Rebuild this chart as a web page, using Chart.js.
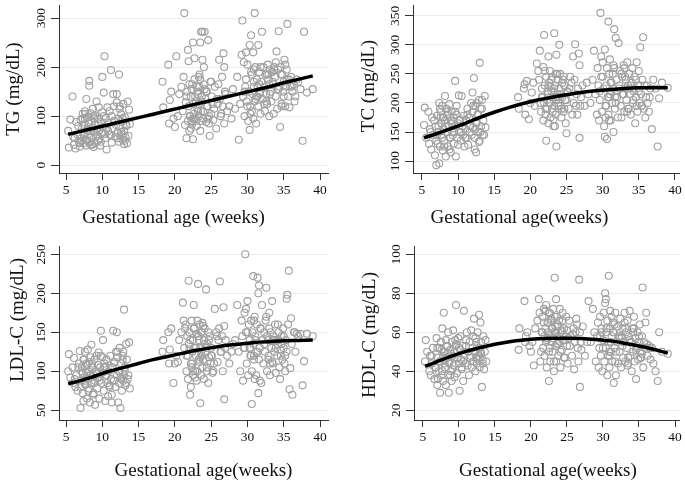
<!DOCTYPE html>
<html>
<head>
<meta charset="utf-8">
<script src="https://cdn.jsdelivr.net/npm/chart.js@4.4.1/dist/chart.umd.min.js"></script>
<style>
    body { margin: 0; background: #fff; }
    #wrap { position: relative; width: 685px; height: 482px; }
    canvas { position: absolute; }
</style>
</head>
<body>
<div id="wrap">
    <canvas id="tgChart" width="342" height="230" style="left:0;top:0"></canvas>
    <canvas id="tcChart" width="343" height="230" style="left:342px;top:0"></canvas>
    <canvas id="ldlChart" width="342" height="252" style="left:0;top:230px"></canvas>
    <canvas id="hdlChart" width="343" height="252" style="left:342px;top:230px"></canvas>
</div>
<script>
// tick labels
const weekTicks = [5, 10, 15, 20, 25, 30, 35, 40];
const tgTicks = [0, 100, 200, 300];
const tcTicks = [100, 150, 200, 250, 300, 350];
const ldlTicks = [50, 100, 150, 200, 250];
const hdlTicks = [20, 40, 60, 80, 100];

// gestational age of each subject (weeks), shared by the four panels
const weeks = [
    5.3,5.4,5.6,5.9,6.0,6.1,6.3,6.4,6.6,6.8,
    6.9,7.0,7.1,7.2,7.3,7.4,7.4,7.5,7.6,7.7,
    7.8,7.8,7.9,8.0,8.0,8.1,8.2,8.2,8.3,8.4,
    8.5,8.5,8.6,8.7,8.8,8.9,9.0,9.0,9.1,9.2,
    9.3,9.4,9.4,9.5,9.6,9.7,9.8,9.9,10.0,10.0,
    10.1,10.2,10.3,10.4,10.5,10.6,10.7,10.8,10.9,11.0,
    11.1,11.2,11.3,11.4,11.5,11.6,11.7,11.8,11.9,12.0,
    12.0,12.1,12.2,12.3,12.3,12.4,12.5,12.5,12.6,12.7,
    12.8,12.9,13.0,13.0,13.1,13.2,13.3,13.4,13.5,13.7,
    13.8,7.1,7.6,8.4,8.8,9.3,9.6,10.4,11.3,12.9,
    6.2,6.7,7.0,7.3,7.5,7.7,7.9,8.1,8.3,8.6,
    8.9,9.1,9.5,9.8,10.2,10.6,11.0,11.6,12.1,12.4,
    12.6,12.8,13.1,13.3,13.6,
    18.3,18.4,19.1,19.2,19.3,19.5,19.8,20.0,20.2,20.4,
    20.6,20.9,21.1,21.2,21.3,21.5,21.6,21.7,21.8,21.8,
    21.9,21.9,22.0,22.1,22.2,22.2,22.3,22.4,22.5,22.5,
    22.6,22.7,22.7,22.8,22.9,23.0,23.0,23.1,23.2,23.3,
    23.3,23.4,23.5,23.5,23.6,23.6,23.7,23.8,23.9,24.0,
    24.0,24.1,24.2,24.3,24.4,24.5,24.6,24.7,24.8,24.9,
    25.0,25.1,25.3,25.5,25.7,25.9,26.0,26.1,26.2,26.3,
    26.5,26.6,26.7,26.8,26.8,27.0,27.2,27.5,27.8,28.0,
    22.3,22.8,23.2,23.8,24.3,24.6,22.0,23.4,25.2,21.4,
    21.6,22.1,22.4,22.6,22.9,23.1,23.3,23.6,23.7,23.9,
    24.1,24.4,24.7,25.0,25.4,25.8,26.4,26.9,22.5,23.5,
    28.3,28.6,28.8,29.0,29.2,29.3,29.4,29.5,29.6,29.7,
    29.8,29.9,30.0,30.1,30.2,30.3,30.3,30.4,30.5,30.6,
    30.6,30.7,30.8,30.8,30.9,31.0,31.0,31.1,31.2,31.3,
    31.4,31.5,31.5,31.6,31.7,31.8,31.9,32.0,32.1,32.2,
    32.3,32.4,32.5,32.6,32.7,32.8,32.9,33.0,33.1,33.2,
    33.3,33.4,33.5,33.6,33.7,33.8,33.9,34.0,34.1,34.2,
    34.3,34.4,34.5,34.6,34.7,34.8,34.9,35.0,35.1,35.2,
    35.3,35.4,35.5,35.6,35.7,35.8,35.9,36.0,36.2,36.4,
    36.6,36.8,37.0,37.3,37.6,37.8,38.2,39.0,30.4,31.2,
    32.6,33.4,34.3,30.9,31.7,33.0,34.7,35.2,29.8,32.9,
    29.6,30.0,30.5,30.9,31.1,31.4,31.8,32.3,32.7,33.1,
    33.5,33.9,34.2,34.6,35.0,35.4,36.1,36.5,31.6,33.7
];

const tgValues = [
    70,36,93,140,58,42,34,88,62,47,
    38,92,55,75,105,45,66,82,110,52,
    135,40,72,98,63,85,172,162,48,106,
    58,90,76,115,37,68,102,45,83,130,
    60,94,50,118,72,40,88,65,180,108,
    78,148,222,55,96,32,118,70,86,110,
    62,194,100,75,145,120,90,58,82,145,
    128,66,95,185,48,115,77,60,104,88,
    52,125,70,43,98,58,82,45,130,113,
    84,50,95,42,100,74,55,64,46,62,
    55,80,46,95,60,105,50,88,70,42,
    96,58,85,48,100,75,62,90,55,120,
    68,95,50,80,60,
    170,118,205,85,133,150,95,78,222,100,
    145,160,110,180,310,128,55,150,235,90,
    212,120,165,100,75,140,155,85,250,53,
    105,175,218,95,130,160,80,115,145,100,
    125,185,250,70,272,90,140,272,110,165,
    200,272,135,88,150,120,255,100,60,170,
    105,140,92,160,75,125,165,215,135,100,
    180,120,228,85,200,145,110,120,95,155,
    90,140,110,215,150,95,70,160,125,82,
    140,100,165,125,90,150,180,110,130,95,
    155,120,85,170,115,135,105,150,95,175,
    115,180,52,125,225,295,140,210,100,160,
    230,130,205,90,150,72,245,120,265,185,
    110,145,230,95,160,310,130,200,85,175,
    140,245,120,190,150,105,170,272,135,200,
    160,110,185,145,125,205,175,100,195,150,
    130,190,165,105,200,180,140,232,115,195,
    273,160,78,200,125,185,150,170,215,120,
    160,195,288,140,175,118,160,180,150,165,
    140,175,170,155,50,272,148,155,105,140,
    130,190,155,195,145,165,120,205,175,185,
    150,120,190,170,135,160,200,125,185,145,
    170,210,155,185,140,175,160,130,165,195
];

const tcValues = [
    162,192,140,185,130,155,120,175,145,110,
    160,93,178,130,150,96,200,125,185,165,
    140,195,118,175,155,135,212,170,108,190,
    150,180,125,160,198,140,170,115,185,150,
    145,175,130,160,238,108,180,140,165,128,
    213,150,172,135,212,160,145,178,125,155,
    170,140,190,128,175,150,160,200,145,218,
    185,158,243,140,120,195,165,115,200,180,
    150,205,269,135,190,160,205,145,170,212,
    158,145,175,190,120,168,185,150,180,133,
    150,170,135,160,190,145,175,125,160,185,
    140,165,150,195,170,160,140,175,195,155,
    165,180,150,190,145,
    210,190,225,232,180,238,172,200,218,235,
    195,268,255,240,290,185,225,210,170,262,
    317,200,230,180,135,245,190,215,280,165,
    235,200,255,175,220,190,245,210,160,320,
    195,230,250,180,125,283,215,240,200,300,
    225,250,195,175,210,240,185,230,205,165,
    148,220,190,245,235,280,200,240,301,195,
    180,225,285,140,265,210,230,195,235,215,
    205,228,172,210,190,245,255,160,218,200,
    210,190,220,200,240,185,225,205,250,195,
    215,235,190,205,225,180,215,195,230,210,
    200,240,290,215,180,260,230,170,205,355,
    245,185,270,225,160,142,292,195,230,138,
    260,210,340,180,250,215,275,170,235,200,
    225,150,265,327,190,312,240,210,175,303,
    230,255,195,175,245,215,265,185,225,240,
    205,270,230,190,250,215,180,235,260,200,
    220,245,165,210,270,185,230,255,200,296,
    215,195,240,313,190,230,175,210,200,185,
    225,155,240,225,125,208,235,226,175,220,
    250,185,225,170,210,260,195,230,280,215,
    220,245,195,210,235,250,200,225,215,245,
    190,230,205,240,220,195,230,210,260,225
];

const ldlValues = [
    100,122,92,105,85,117,80,95,75,110,
    126,53,88,105,72,62,115,92,125,83,
    98,110,65,128,90,100,78,112,60,95,
    134,85,105,70,95,115,57,88,100,120,
    78,108,92,124,65,105,152,85,118,98,
    140,75,110,62,95,115,85,68,100,80,
    120,90,70,105,152,88,112,80,125,95,
    150,118,60,100,85,130,53,92,110,75,
    120,88,179,95,105,82,135,115,90,137,
    78,100,83,118,72,97,88,106,60,125,
    90,105,80,98,115,88,108,75,95,110,
    85,100,92,120,105,95,82,110,125,100,
    90,115,100,85,95,
    125,140,150,110,128,155,85,110,120,112,
    140,150,188,165,130,160,100,145,90,120,
    216,135,150,70,110,80,165,125,140,95,
    185,155,130,100,120,148,88,165,212,140,
    115,160,59,130,95,150,120,105,158,140,
    90,155,125,205,100,135,150,118,145,110,
    130,120,100,180,150,112,140,155,215,125,
    145,100,182,64,158,140,120,110,125,135,
    105,92,145,162,130,85,128,112,98,155,
    120,140,110,155,130,100,145,125,150,115,
    135,105,140,120,110,145,125,130,100,118,
    140,185,125,100,165,145,88,130,175,250,
    150,110,190,95,160,130,140,120,165,58,
    100,150,135,222,115,170,90,145,125,160,
    220,72,200,210,130,155,85,185,140,110,
    150,125,165,207,100,140,120,175,95,150,
    130,190,110,145,125,160,98,140,120,135,
    150,105,90,128,145,115,155,130,110,120,
    140,193,198,160,229,77,104,168,70,150,
    125,148,145,148,82,113,148,145,130,95,
    170,112,140,120,88,155,135,100,180,115,
    130,150,120,165,140,125,155,135,145,110,
    140,130,160,120,145,125,135,150,115,140
];

const hdlValues = [
    45,56,50,40,48,38,44,52,36,42,
    57,33,47,40,52,29,45,55,38,62,
    48,35,70,44,50,42,56,33,47,53,
    38,60,29,45,51,40,55,35,48,61,
    43,50,37,53,74,39,47,57,44,52,
    30,58,46,41,53,35,71,49,44,56,
    60,43,50,38,55,47,61,42,52,58,
    45,67,50,40,57,47,53,44,60,48,
    69,42,65,50,55,32,46,58,41,56,
    45,36,51,49,38,47,54,42,50,47,
    48,42,52,45,55,40,50,46,53,44,
    49,41,56,47,51,45,53,48,50,55,
    46,52,49,44,50,
    51,62,76,55,58,60,53,50,55,43,
    62,66,77,70,45,60,68,52,65,72,
    58,48,62,74,56,42,65,60,35,50,
    70,58,45,67,55,62,50,72,40,88,
    60,53,77,45,68,58,64,48,66,55,
    72,42,60,51,70,56,62,47,58,68,
    53,44,66,58,48,62,41,55,60,67,
    52,45,87,32,60,51,63,48,55,76,
    57,66,45,54,61,47,71,63,57,50,
    60,55,65,52,62,57,68,54,63,58,
    50,66,56,61,53,59,64,55,70,60,
    55,72,60,45,58,65,42,52,68,48,
    62,40,56,70,45,80,75,52,60,38,
    66,48,89,55,42,62,71,50,58,45,
    65,34,60,52,70,38,55,63,44,58,
    50,67,42,58,62,47,55,70,45,60,
    52,66,44,58,71,48,55,40,62,50,
    68,45,57,36,52,60,46,55,64,50,
    47,58,83,42,55,52,65,70,48,53,
    46,52,44,40,35,60,50,49,77,68,
    57,43,62,50,45,65,53,47,60,55,
    58,52,62,48,55,60,50,57,53,62,
    47,55,60,51,58,49,54,52,64,56
];

// fitted curves
const fitWeeks = [5.3, 7, 9, 11, 13, 15, 17, 19, 21, 23, 25, 27, 29, 31, 33, 35, 37, 39];
const tgFit = [63, 69, 76, 83, 90, 97, 104, 111, 118, 125, 132, 139, 146, 153, 160, 168, 175, 182];
const tcFit = [140, 147, 156, 165, 175, 184, 192, 199, 205, 210, 214, 218, 221, 223, 225, 226, 226, 226];
const ldlFit = [84, 88, 94, 100, 105, 110, 115, 119, 123, 127, 130, 133, 135, 137, 138, 139, 139.5, 140];
const hdlFit = [42.5, 45, 47.8, 50.2, 52.2, 53.9, 55.2, 56.1, 56.7, 57, 57, 56.8, 56.3, 55.6, 54.4, 53, 51.3, 49.3];

const panelText = {
    id: 'panelText',
    afterDraw(chart, args, opts) {
        const { ctx, chartArea, scales: { x, y } } = chart;
        ctx.save();
        ctx.fillStyle = '#111';
        ctx.textAlign = 'center';
        ctx.textBaseline = 'middle';

        // tick labels (y ones stand upright like the original)
        ctx.font = '13.5px "Liberation Serif", serif';
        x.ticks.forEach(t => {
            ctx.fillText(t.value, x.getPixelForValue(t.value), chartArea.bottom + 17);
        });
        y.ticks.forEach(t => {
            ctx.save();
            ctx.translate(chartArea.left - 18, y.getPixelForValue(t.value));
            ctx.rotate(-Math.PI / 2);
            ctx.fillText(t.value, 0, 0);
            ctx.restore();
        });

        // axis titles
        ctx.font = '19px "Liberation Serif", serif';
        ctx.fillText(opts.xTitle, (chartArea.left + chartArea.right) / 2 + opts.xShift, opts.xTitleY);
        ctx.translate(opts.yTitleX, (chartArea.top + chartArea.bottom) / 2 + opts.yShift);
        ctx.rotate(-Math.PI / 2);
        ctx.fillText(opts.yTitle, 0, 0);
        ctx.restore();
    }
};

function createPanel(p) {
    const canvas = document.getElementById(p.id);

    const data = {
        datasets: [{
            data: fitWeeks.map((w, i) => ({ x: w, y: p.fit[i] })),
            showLine: true,
            borderColor: '#000',
            borderWidth: 3.5,
            pointRadius: 0,
            cubicInterpolationMode: 'monotone',
            order: 0
        }, {
            data: weeks.map((w, i) => ({ x: w, y: p.values[i] })),
            pointStyle: 'circle',
            pointRadius: 3.5,
            borderWidth: 1.1,
            borderColor: '#a0a0a0',
            backgroundColor: 'rgba(0,0,0,0)',
            order: 1
        }]
    };

    const config = {
        type: 'scatter',
        data,
        options: {
            responsive: false,
            animation: false,
            events: [],
            layout: {
                padding: { left: 0, top: p.top, right: p.right, bottom: 0 }
            },
            plugins: {
                legend: { display: false },
                tooltip: { enabled: false },
                panelText: {
                    xTitle: p.xTitle, xTitleY: p.xTitleY, xShift: p.xShift,
                    yTitle: p.yTitle, yTitleX: p.yTitleX, yShift: p.yShift
                }
            },
            scales: {
                x: {
                    type: 'linear',
                    min: p.xMin,
                    max: p.xMax,
                    afterBuildTicks: s => { s.ticks = weekTicks.map(v => ({ value: v })); },
                    afterFit: s => { s.height = p.bottom; },
                    ticks: { display: false },
                    grid: { drawOnChartArea: false, tickLength: 7, tickColor: '#333' },
                    border: { color: '#333', width: 1 }
                },
                y: {
                    type: 'linear',
                    min: p.yMin,
                    max: p.yMax,
                    afterBuildTicks: s => { s.ticks = p.ticks.map(v => ({ value: v })); },
                    afterFit: s => { s.width = p.left; },
                    ticks: { display: false },
                    grid: { color: '#ececec', tickLength: 8, tickColor: '#333' },
                    border: { color: '#333', width: 1 }
                }
            }
        },
        plugins: [panelText]
    };

    new Chart(canvas, config);
}

createPanel({
    id: 'tgChart', values: tgValues, fit: tgFit, ticks: tgTicks,
    xMin: 4.035, xMax: 41.1, yMin: -15.8, yMax: 326.3,
    left: 59, right: 14, top: 0, bottom: 57,
    xTitle: 'Gestational age (weeks)', xTitleY: 218, xShift: -20,
    yTitle: 'TG (mg/dL)', yTitleX: 14, yShift: 0
});
createPanel({
    id: 'tcChart', values: tcValues, fit: tcFit, ticks: tcTicks,
    xMin: 3.774, xMax: 40.68, yMin: 79.5, yMax: 368.4,
    left: 71, right: 1, top: 0, bottom: 57,
    xTitle: 'Gestational age(weeks)', xTitleY: 218, xShift: -27,
    yTitle: 'TC (mg/dL)', yTitleX: 27, yShift: -3
});
createPanel({
    id: 'ldlChart', values: ldlValues, fit: ldlFit, ticks: ldlTicks,
    xMin: 4.035, xMax: 41.1, yMin: 37.56, yMax: 260.6,
    left: 59, right: 14, top: 16, bottom: 62,
    xTitle: 'Gestational age(weeks)', xTitleY: 241, xShift: 10,
    yTitle: 'LDL-C (mg/dL)', yTitleX: 18, yShift: -13
});
createPanel({
    id: 'hdlChart', values: hdlValues, fit: hdlFit, ticks: hdlTicks,
    xMin: 3.77, xMax: 40.68, yMin: 15.03, yMax: 104.26,
    left: 72, right: 1, top: 16, bottom: 62,
    xTitle: 'Gestational age(weeks)', xTitleY: 241, xShift: 1,
    yTitle: 'HDL-C (mg/dL)', yTitleX: 28, yShift: 2
});
</script>
</body>
</html>
